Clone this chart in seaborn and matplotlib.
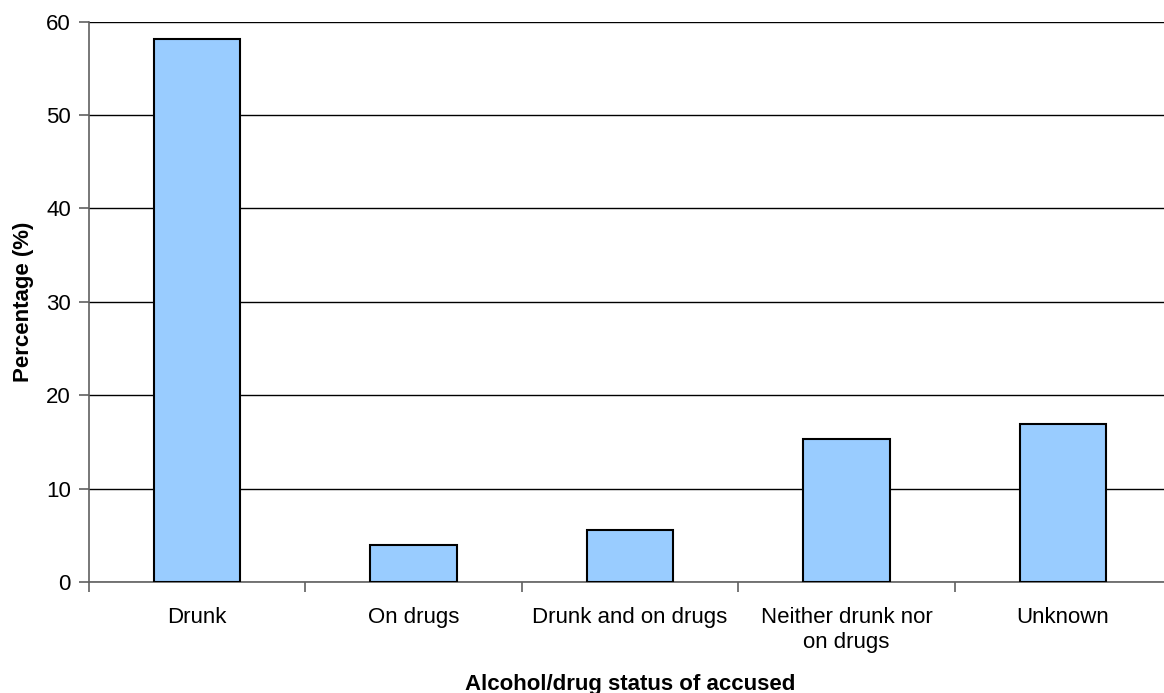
import matplotlib
matplotlib.use("Agg")
import matplotlib.pyplot as plt
import seaborn as sns
import pandas as pd
from matplotlib.ticker import FixedLocator

categories = ["Drunk", "On drugs", "Drunk and on drugs", "Neither drunk nor\non drugs", "Unknown"]
values = [58.1, 4.0, 5.6, 15.3, 16.9]
y_ticks = [0, 10, 20, 30, 40, 50, 60]

sns.set_theme(style="white")
plt.rcParams["font.family"] = ["Liberation Sans", "DejaVu Sans"]
plt.rcParams["text.color"] = "black"
plt.rcParams["xtick.color"] = "black"
plt.rcParams["ytick.color"] = "black"
plt.rcParams["axes.labelcolor"] = "black"

df = pd.DataFrame({"status": categories, "pct": values})

fig = plt.figure(figsize=(11.64, 6.93), dpi=100)
ax_h = 582 - 21.7
ax = fig.add_axes([89 / 1164, (693 - 582) / 693, (1171 - 89) / 1164, ax_h / 693])

sns.barplot(data=df, x="status", y="pct", color="#99CCFF", edgecolor="black",
            linewidth=1.5, width=0.4, saturation=1, ax=ax, zorder=3)

ax.set_xlim(-0.5, len(categories) - 0.5)
ax.set_ylim(0, 60)
ax.set_yticks(y_ticks)
ax.yaxis.grid(True, color="black", linewidth=1.0, zorder=0)
ax.set_axisbelow(True)

for s in ["top", "right"]:
    ax.spines[s].set_visible(False)
for s in ["left", "bottom"]:
    ax.spines[s].set_color("#606060")
    ax.spines[s].set_linewidth(1.2)

ax.tick_params(axis="y", which="major", direction="out", length=7, width=1.2,
               color="#606060", labelcolor="black", labelsize=16, pad=6, left=True)
ax.tick_params(axis="x", which="major", length=0, labelsize=16, pad=18, labelcolor="black")
for lab in ax.get_xticklabels():
    lab.set_linespacing(1.25)
ax.xaxis.set_minor_locator(FixedLocator([i - 0.5 for i in range(len(categories) + 1)]))
ax.tick_params(axis="x", which="minor", direction="out", length=7, width=1.2,
               color="#606060", bottom=True)

ax.set_xlabel("Alcohol/drug status of accused", fontsize=16, fontweight="bold", color="black")
ax.xaxis.label.set_va("baseline")
ax.xaxis.set_label_coords(0.5, -(690 - 582) / ax_h)
ax.set_ylabel("Percentage (%)", fontsize=16, fontweight="bold", labelpad=9, color="black")

fig.savefig("out.png", dpi=100)
